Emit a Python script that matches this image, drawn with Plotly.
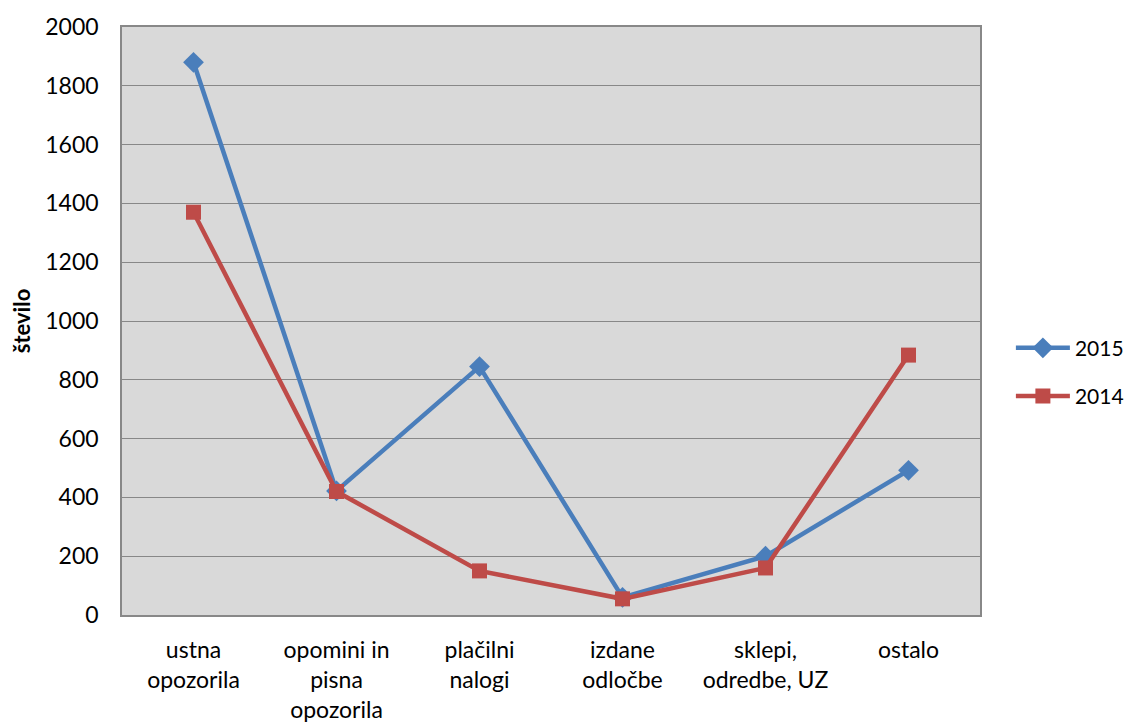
import plotly.graph_objects as go

categories = ["ustna<br>opozorila", "opomini in<br>pisna<br>opozorila", "plačilni<br>nalogi",
              "izdane<br>odločbe", "sklepi,<br>odredbe, UZ", "ostalo"]
values_2015 = [1880, 422, 845, 60, 200, 492]
values_2014 = [1370, 420, 150, 55, 160, 884]
y_ticks = [0, 200, 400, 600, 800, 1000, 1200, 1400, 1600, 1800, 2000]

FONT = "Lato, Open Sans, sans-serif"

fig = go.Figure()
fig.add_trace(go.Scatter(
    x=categories, y=values_2015, name="2015", mode="lines+markers", legendgroup="a",
    line=dict(color="#4a7ebb", width=4.5),
    marker=dict(symbol="diamond", size=16, color="#4a7ebb"),
))
fig.add_trace(go.Scatter(
    x=categories, y=values_2014, name="2014", mode="lines+markers", legendgroup="b",
    line=dict(color="#be4b48", width=4.5),
    marker=dict(symbol="square", size=15, color="#be4b48"),
))

fig.update_layout(
    width=1137, height=727,
    margin=dict(l=114, r=165, t=19, b=120, autoexpand=False),
    paper_bgcolor="white",
    plot_bgcolor="#d9d9d9",
    font=dict(family=FONT, size=24, color="black"),
    showlegend=True,
    legend=dict(x=1.036, y=0.413, xanchor="left", yanchor="middle",
                font=dict(size=21), itemwidth=54, tracegroupgap=18,
                bgcolor="rgba(0,0,0,0)"),
    xaxis=dict(
        type="category", range=[-0.5, 5.5], showgrid=False, automargin=False,
        showline=True, linecolor="#888888", linewidth=1.5, mirror=True,
        ticks="", tickfont=dict(size=23), ticklabelstandoff=14,
    ),
    yaxis=dict(
        range=[0, 2000], tickvals=y_ticks, showgrid=True, gridcolor="#888888", gridwidth=1.3,
        showline=True, linecolor="#888888", linewidth=1.5, mirror=True, automargin=False,
        ticks="", tickfont=dict(size=23), zeroline=False, ticklabelstandoff=17,
        title=dict(text="<b>število</b>", font=dict(size=22), standoff=17),
    ),
)

fig.write_html("out.html")
